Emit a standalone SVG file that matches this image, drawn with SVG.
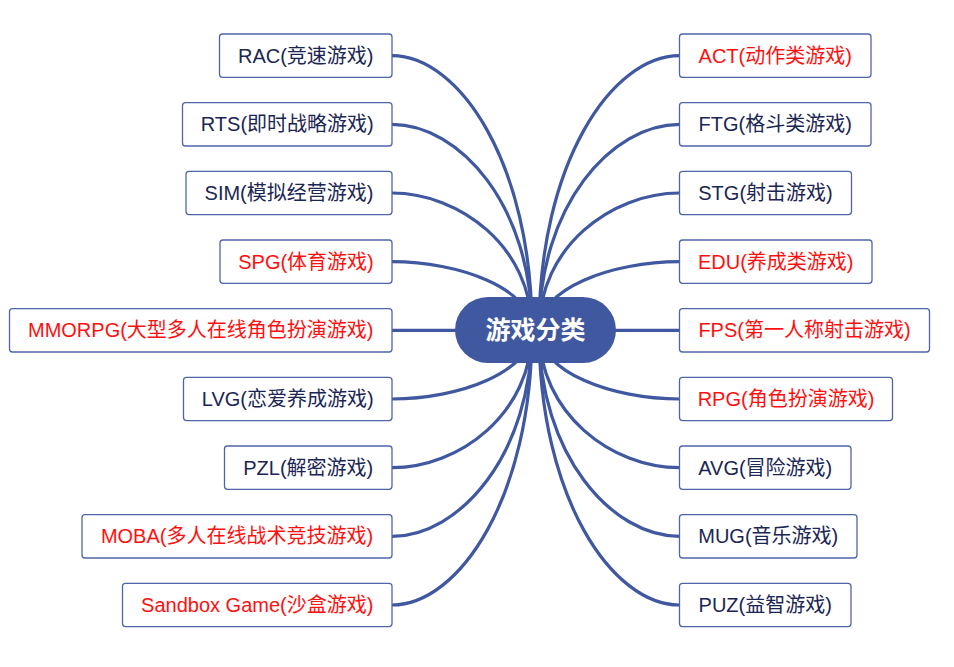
<svg xmlns="http://www.w3.org/2000/svg" width="954" height="667" viewBox="0 0 954 667">
<style>
.bg{fill:#ffffff}
.box{fill:#ffffff;stroke:#5065a8;stroke-width:1.3}
.t{font-family:"Liberation Sans","Noto Sans CJK SC",sans-serif;font-size:20px;text-anchor:middle}
.n{fill:#1b2654}
.r{fill:#ff1010}
.c{fill:none;stroke:#3f58a0;stroke-width:3.2;stroke-linecap:round}
.hub{fill:#3f58a0}
.ht{font-family:"Liberation Sans","Noto Sans CJK SC",sans-serif;font-size:25px;font-weight:bold;fill:#ffffff;text-anchor:middle}
</style>
<rect class="bg" x="0" y="0" width="954" height="667"/>
<g id="connectors">
<path class="c" d="M392 55.7 C459 55.7 532 162.7 532 330"/>
<path class="c" d="M392 124.3 C459 124.3 532 204.5 532 330"/>
<path class="c" d="M392 193 C459 193 532 246.4 532 330"/>
<path class="c" d="M392 261.7 C459 261.7 532 288.3 532 330"/>
<path class="c" d="M392 330.3 L460 330.3"/>
<path class="c" d="M392 399 C459 399 532 372.1 532 330"/>
<path class="c" d="M392 467.7 C459 467.7 532 414 532 330"/>
<path class="c" d="M392 536.3 C459 536.3 532 455.8 532 330"/>
<path class="c" d="M392 605 C459 605 532 497.7 532 330"/>
<path class="c" d="M679.5 55.7 C612 55.7 539 162.7 539 330"/>
<path class="c" d="M679.5 124.3 C612 124.3 539 204.5 539 330"/>
<path class="c" d="M679.5 193 C612 193 539 246.4 539 330"/>
<path class="c" d="M679.5 261.7 C612 261.7 539 288.3 539 330"/>
<path class="c" d="M679.5 330.3 L610 330.3"/>
<path class="c" d="M679.5 399 C612 399 539 372.1 539 330"/>
<path class="c" d="M679.5 467.7 C612 467.7 539 414 539 330"/>
<path class="c" d="M679.5 536.3 C612 536.3 539 455.8 539 330"/>
<path class="c" d="M679.5 605 C612 605 539 497.7 539 330"/>
</g>
<g id="hub">
<rect class="hub" x="455" y="297" width="161" height="66" rx="33"/>
<text class="ht" x="535.5" y="339">游戏分类</text>
</g>
<g id="n-rac"><rect class="box" x="219.5" y="34" width="172.5" height="43.3" rx="3"/><text class="t n" x="305.75" y="62.7">RAC(竞速游戏)</text></g>
<g id="n-rts"><rect class="box" x="182.5" y="102.7" width="209.5" height="43.3" rx="3"/><text class="t n" x="287.25" y="131.3">RTS(即时战略游戏)</text></g>
<g id="n-sim"><rect class="box" x="186" y="171.3" width="206" height="43.3" rx="3"/><text class="t n" x="289" y="200">SIM(模拟经营游戏)</text></g>
<g id="n-spg"><rect class="box" x="220" y="240" width="172" height="43.3" rx="3"/><text class="t r" x="306" y="268.7">SPG(体育游戏)</text></g>
<g id="n-mmorpg"><rect class="box" x="9.5" y="308.7" width="382.5" height="43.3" rx="3"/><text class="t r" x="200.75" y="337.3">MMORPG(大型多人在线角色扮演游戏)</text></g>
<g id="n-lvg"><rect class="box" x="183.5" y="377.3" width="208.5" height="43.3" rx="3"/><text class="t n" x="287.75" y="406">LVG(恋爱养成游戏)</text></g>
<g id="n-pzl"><rect class="box" x="224.5" y="446" width="167.5" height="43.3" rx="3"/><text class="t n" x="308.25" y="474.7">PZL(解密游戏)</text></g>
<g id="n-moba"><rect class="box" x="82" y="514.7" width="310" height="43.3" rx="3"/><text class="t r" x="237" y="543.3">MOBA(多人在线战术竞技游戏)</text></g>
<g id="n-sandbox"><rect class="box" x="122.5" y="583.3" width="269.5" height="43.3" rx="3"/><text class="t r" x="257.25" y="612">Sandbox Game(沙盒游戏)</text></g>
<g id="n-act"><rect class="box" x="679.5" y="34" width="191.5" height="43.3" rx="3"/><text class="t r" x="775.25" y="62.7">ACT(动作类游戏)</text></g>
<g id="n-ftg"><rect class="box" x="679.5" y="102.7" width="191.5" height="43.3" rx="3"/><text class="t n" x="775.25" y="131.3">FTG(格斗类游戏)</text></g>
<g id="n-stg"><rect class="box" x="679.5" y="171.3" width="172" height="43.3" rx="3"/><text class="t n" x="765.5" y="200">STG(射击游戏)</text></g>
<g id="n-edu"><rect class="box" x="679.5" y="240" width="192.5" height="43.3" rx="3"/><text class="t r" x="775.75" y="268.7">EDU(养成类游戏)</text></g>
<g id="n-fps"><rect class="box" x="679.5" y="308.7" width="250" height="43.3" rx="3"/><text class="t r" x="804.5" y="337.3">FPS(第一人称射击游戏)</text></g>
<g id="n-rpg"><rect class="box" x="679.5" y="377.3" width="213" height="43.3" rx="3"/><text class="t r" x="786" y="406">RPG(角色扮演游戏)</text></g>
<g id="n-avg"><rect class="box" x="679.5" y="446" width="171.5" height="43.3" rx="3"/><text class="t n" x="765.25" y="474.7">AVG(冒险游戏)</text></g>
<g id="n-mug"><rect class="box" x="679.5" y="514.7" width="177.5" height="43.3" rx="3"/><text class="t n" x="768.25" y="543.3">MUG(音乐游戏)</text></g>
<g id="n-puz"><rect class="box" x="679.5" y="583.3" width="171.5" height="43.3" rx="3"/><text class="t n" x="765.25" y="612">PUZ(益智游戏)</text></g>
</svg>
